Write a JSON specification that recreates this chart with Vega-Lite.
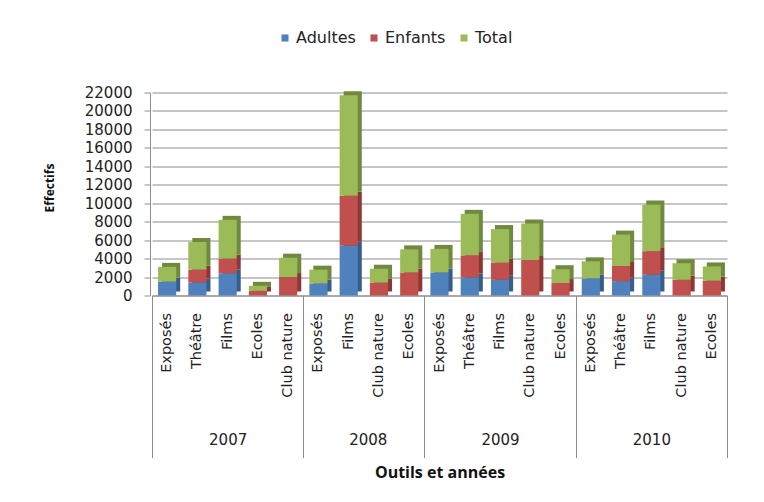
{
  "$schema": "https://vega.github.io/schema/vega-lite/v6.json",
  "width": 575,
  "height": 203,
  "autosize": {"type": "none"},
  "padding": {"left": 152, "top": 92.5, "right": 37, "bottom": 206.5},
  "background": "white",
  "config": {"view": {"stroke": null}},
  "data": {
    "values": [
      {"cle": "2007|Exposés", "serie": "Adultes", "valeur": 1500},
      {"cle": "2007|Exposés", "serie": "Total", "valeur": 1600},
      {"cle": "2007|Théâtre", "serie": "Adultes", "valeur": 1400},
      {"cle": "2007|Théâtre", "serie": "Enfants", "valeur": 1400},
      {"cle": "2007|Théâtre", "serie": "Total", "valeur": 3000},
      {"cle": "2007|Films", "serie": "Adultes", "valeur": 2400},
      {"cle": "2007|Films", "serie": "Enfants", "valeur": 1600},
      {"cle": "2007|Films", "serie": "Total", "valeur": 4200},
      {"cle": "2007|Ecoles", "serie": "Enfants", "valeur": 500},
      {"cle": "2007|Ecoles", "serie": "Total", "valeur": 550},
      {"cle": "2007|Club nature", "serie": "Enfants", "valeur": 2000},
      {"cle": "2007|Club nature", "serie": "Total", "valeur": 2100},
      {"cle": "2008|Exposés", "serie": "Adultes", "valeur": 1300},
      {"cle": "2008|Exposés", "serie": "Total", "valeur": 1500},
      {"cle": "2008|Films", "serie": "Adultes", "valeur": 5400},
      {"cle": "2008|Films", "serie": "Enfants", "valeur": 5400},
      {"cle": "2008|Films", "serie": "Total", "valeur": 10900},
      {"cle": "2008|Club nature", "serie": "Enfants", "valeur": 1400},
      {"cle": "2008|Club nature", "serie": "Total", "valeur": 1500},
      {"cle": "2008|Ecoles", "serie": "Enfants", "valeur": 2500},
      {"cle": "2008|Ecoles", "serie": "Total", "valeur": 2500},
      {"cle": "2009|Exposés", "serie": "Adultes", "valeur": 2500},
      {"cle": "2009|Exposés", "serie": "Total", "valeur": 2550},
      {"cle": "2009|Théâtre", "serie": "Adultes", "valeur": 1950},
      {"cle": "2009|Théâtre", "serie": "Enfants", "valeur": 2400},
      {"cle": "2009|Théâtre", "serie": "Total", "valeur": 4500},
      {"cle": "2009|Films", "serie": "Adultes", "valeur": 1700},
      {"cle": "2009|Films", "serie": "Enfants", "valeur": 1850},
      {"cle": "2009|Films", "serie": "Total", "valeur": 3650},
      {"cle": "2009|Club nature", "serie": "Enfants", "valeur": 3850},
      {"cle": "2009|Club nature", "serie": "Total", "valeur": 3950},
      {"cle": "2009|Ecoles", "serie": "Enfants", "valeur": 1350},
      {"cle": "2009|Ecoles", "serie": "Total", "valeur": 1500},
      {"cle": "2010|Exposés", "serie": "Adultes", "valeur": 1850},
      {"cle": "2010|Exposés", "serie": "Total", "valeur": 1850},
      {"cle": "2010|Théâtre", "serie": "Adultes", "valeur": 1550},
      {"cle": "2010|Théâtre", "serie": "Enfants", "valeur": 1650},
      {"cle": "2010|Théâtre", "serie": "Total", "valeur": 3400},
      {"cle": "2010|Films", "serie": "Adultes", "valeur": 2250},
      {"cle": "2010|Films", "serie": "Enfants", "valeur": 2550},
      {"cle": "2010|Films", "serie": "Total", "valeur": 5050},
      {"cle": "2010|Club nature", "serie": "Enfants", "valeur": 1700},
      {"cle": "2010|Club nature", "serie": "Total", "valeur": 1800},
      {"cle": "2010|Ecoles", "serie": "Enfants", "valeur": 1600},
      {"cle": "2010|Ecoles", "serie": "Total", "valeur": 1550}
    ]
  },
  "layer": [
    {
      "mark": {"type": "bar", "width": {"band": 0.6}, "xOffset": 4, "yOffset": -4},
      "encoding": {
        "x": {
          "field": "cle", "type": "nominal", "sort": null,
          "scale": {"paddingInner": 0, "paddingOuter": 0},
          "axis": {
            "orient": "bottom",
            "domain": false,
            "grid": false,
            "ticks": true,
            "tickBand": "extent",
            "tickSize": 162,
            "tickColor": "#8c8c8c",
            "tickWidth": 1,
            "tickOpacity": {"condition": {"test": "datum.index < 0 || indexof(['2007|Club nature','2008|Ecoles','2009|Ecoles','2010|Ecoles'], datum.value) >= 0", "value": 1}, "value": 0},
            "labelExpr": "indexof(['2007|Films','2008|Films','2009|Films','2010|Films'], datum.value) >= 0 ? split(datum.value, '|')[0] : ''",
            "labelAngle": 0,
            "labelAlign": {"condition": {"test": "datum.value === '2008|Films'", "value": "left"}, "value": "center"},
            "labelBaseline": "top",
            "labelPadding": -25,
            "labelOverlap": false,
            "labelFont": "DejaVu Sans",
            "labelFontSize": 15,
            "labelColor": "#222222",
            "title": "Outils et années",
            "titleFont": "Open Sans",
            "titleFontSize": 16,
            "titleFontWeight": "bold",
            "titleColor": "#111111",
            "titlePadding": 6
          }
        },
        "y": {
          "field": "valeur", "type": "quantitative", "stack": "zero",
          "scale": {"domain": [0, 22000], "nice": false},
          "axis": {
            "orient": "left",
            "offset": 2,
            "values": [0, 2000, 4000, 6000, 8000, 10000, 12000, 14000, 16000, 18000, 20000, 22000],
            "format": "d",
            "domain": true,
            "domainColor": "#8c8c8c",
            "ticks": true,
            "tickSize": 6,
            "tickColor": "#8c8c8c",
            "labelPadding": 12,
            "labelFont": "DejaVu Sans",
            "labelFontSize": 15,
            "labelColor": "#222222",
            "grid": true,
            "gridColor": "#8c8c8c",
            "gridWidth": 1,
            "title": "Effectifs",
            "titleFont": "Open Sans",
            "titleFontSize": 12,
            "titleFontWeight": "bold",
            "titleColor": "#111111",
            "titlePadding": 28,
            "titleY": 95
          }
        },
        "order": {"field": "serie", "type": "nominal", "sort": "ascending"},
        "color": {
          "field": "serie", "type": "nominal",
          "scale": {"domain": ["Adultes", "Enfants", "Total"], "range": ["#385D8A", "#8C3836", "#71893F"]},
          "legend": null
        }
      }
    },
    {
      "mark": {"type": "bar", "width": {"band": 0.6}},
      "encoding": {
        "x": {
          "field": "cle", "type": "nominal", "sort": null,
          "scale": {"paddingInner": 0, "paddingOuter": 0},
          "axis": {
            "orient": "bottom",
            "domain": true,
            "domainColor": "#8c8c8c",
            "grid": false,
            "ticks": false,
            "labelExpr": "split(datum.value, '|')[1]",
            "labelAngle": -90,
            "labelAlign": "right",
            "labelBaseline": "middle",
            "labelPadding": 17,
            "labelOverlap": false,
            "labelFont": "DejaVu Sans",
            "labelFontSize": 14.5,
            "labelColor": "#222222",
            "title": null
          }
        },
        "y": {
          "field": "valeur", "type": "quantitative", "stack": "zero",
          "scale": {"domain": [0, 22000], "nice": false},
          "axis": {
            "orient": "left",
            "offset": 2,
            "values": [0, 2000, 4000, 6000, 8000, 10000, 12000, 14000, 16000, 18000, 20000, 22000],
            "format": "d",
            "domain": true,
            "domainColor": "#8c8c8c",
            "ticks": true,
            "tickSize": 6,
            "tickColor": "#8c8c8c",
            "labelPadding": 12,
            "labelFont": "DejaVu Sans",
            "labelFontSize": 15,
            "labelColor": "#222222",
            "grid": true,
            "gridColor": "#8c8c8c",
            "gridWidth": 1,
            "title": "Effectifs",
            "titleFont": "Open Sans",
            "titleFontSize": 12,
            "titleFontWeight": "bold",
            "titleColor": "#111111",
            "titlePadding": 28,
            "titleY": 95
          }
        },
        "order": {"field": "serie", "type": "nominal", "sort": "ascending"},
        "color": {
          "field": "serie", "type": "nominal",
          "scale": {"domain": ["Adultes", "Enfants", "Total"], "range": ["#4F81BD", "#C0504D", "#9BBB59"]},
          "legend": {
            "orient": "none",
            "legendX": 125,
            "legendY": -62.5,
            "direction": "horizontal",
            "title": null,
            "symbolType": "square",
            "symbolSize": 50,
            "symbolStrokeWidth": 0,
            "labelFont": "DejaVu Sans",
            "labelFontSize": 16,
            "labelColor": "#222222",
            "labelOffset": 3,
            "columnSpacing": 23
          }
        }
      }
    }
  ],
  "resolve": {"scale": {"color": "independent"}, "axis": {"x": "independent"}}
}
